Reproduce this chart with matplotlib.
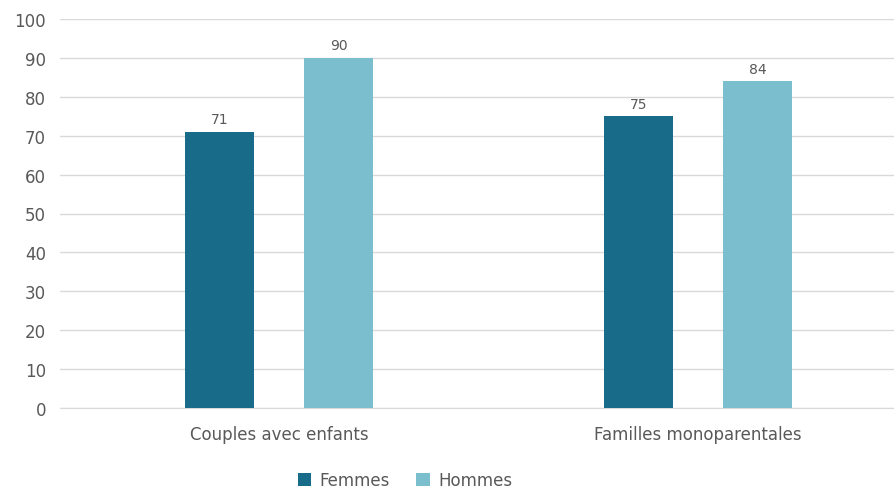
import matplotlib.pyplot as plt
import numpy as np

categories = ["Couples avec enfants", "Familles monoparentales"]
femmes = [71, 75]
hommes = [90, 84]
series_names = ["Femmes", "Hommes"]
yticks = [0, 10, 20, 30, 40, 50, 60, 70, 80, 90, 100]

c_femmes = "#186C8A"
c_hommes = "#7BBFCE"
grey = "#595959"

plt.rcParams['font.family'] = ['DejaVu Sans']

fig = plt.figure(figsize=(8.95, 4.89), dpi=100)
ax = fig.add_axes([60/895, 80/489, 835/895, 389/489])

x = np.arange(len(categories))
w = 0.165
off = 0.142
b1 = ax.bar(x - off, femmes, w, color=c_femmes, label=series_names[0], zorder=3)
b2 = ax.bar(x + off, hommes, w, color=c_hommes, label=series_names[1], zorder=3)

for bars in (b1, b2):
    for r in bars:
        ax.annotate(f"{r.get_height():.0f}", (r.get_x() + r.get_width()/2, r.get_height()),
                    xytext=(0, 4), textcoords="offset points", ha="center", va="bottom",
                    fontsize=10, color=grey)

ax.set_xlim(-0.523, 1.470)
ax.set_ylim(0, 100)
ax.set_yticks(yticks)
ax.set_xticks(x)
ax.set_xticklabels(categories, fontsize=12)
ax.tick_params(axis="both", length=0, colors=grey, labelsize=12)
ax.tick_params(axis="x", pad=12)
ax.tick_params(axis="y", pad=10)
ax.yaxis.grid(True, color="#D9D9D9", linewidth=1, zorder=0)
for s in ax.spines.values():
    s.set_visible(False)
ax.spines["bottom"].set_visible(True)
ax.spines["bottom"].set_color("#D9D9D9")

leg = fig.legend(loc="center", bbox_to_anchor=(405/895, 1 - 481/489), ncol=2, frameon=False,
                 fontsize=12, handlelength=0.8, handleheight=0.8, columnspacing=1.6,
                 handletextpad=0.5)
for t in leg.get_texts():
    t.set_color(grey)

fig.savefig("out.png", dpi=100)
